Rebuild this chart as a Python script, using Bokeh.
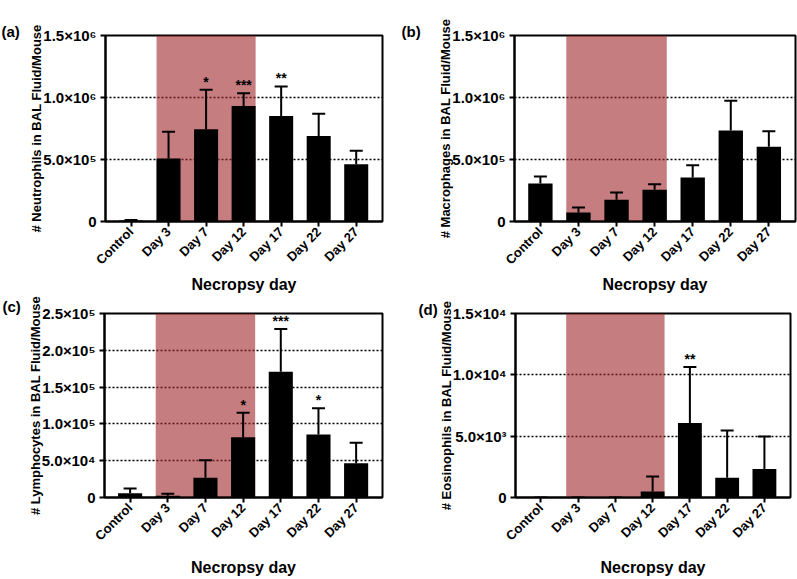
import numpy as np
from bokeh.plotting import figure
from bokeh.layouts import column, row
from bokeh.models import (ColumnDataSource, FixedTicker, Range1d, Whisker, TeeHead,
                          BoxAnnotation, Title)
from bokeh.core.properties import value
from bokeh.embed import file_html
from bokeh.resources import INLINE

categories = ["Control", "Day 3", "Day 7", "Day 12", "Day 17", "Day 22", "Day 27"]
shade_from = "Day 3"
shade_to = "Day 12"

neut_mean = [8e3, 5.08e5, 7.43e5, 9.32e5, 8.51e5, 6.89e5, 4.62e5]
neut_upper = [1.2e4, 7.24e5, 1.062e6, 1.035e6, 1.089e6, 8.68e5, 5.70e5]
neut_sig = ["", "", "*", "***", "**", "", ""]

macro_mean = [3.06e5, 0.72e5, 1.76e5, 2.56e5, 3.54e5, 7.33e5, 6.02e5]
macro_upper = [3.62e5, 1.12e5, 2.34e5, 3.01e5, 4.53e5, 9.73e5, 7.27e5]
macro_sig = ["", "", "", "", "", "", ""]

lymph_mean = [5.9e3, 2.3e3, 2.7e4, 8.17e4, 1.71e5, 8.57e4, 4.65e4]
lymph_upper = [1.22e4, 5.0e3, 5.05e4, 1.151e5, 2.288e5, 1.214e5, 7.45e4]
lymph_sig = ["", "", "", "*", "***", "*", ""]

eos_mean = [0, 0, 0, 490, 6070, 1620, 2330]
eos_upper = [0, 0, 0, 1710, 10640, 5470, 4980]
eos_sig = ["", "", "", "", "**", "", ""]

yticks_a = [0, 5e5, 1e6, 1.5e6]
ylabels_a = ["0", "5.0×10⁵", "1.0×10⁶", "1.5×10⁶"]
yticks_c = [0, 5e4, 1e5, 1.5e5, 2e5, 2.5e5]
ylabels_c = ["0", "5.0×10⁴", "1.0×10⁵", "1.5×10⁵", "2.0×10⁵", "2.5×10⁵"]
yticks_d = [0, 5e3, 1e4, 1.5e4]
ylabels_d = ["0", "5.0×10³", "1.0×10⁴", "1.5×10⁴"]

FONT = "Liberation Sans"
BAR_W = 0.64
X0 = -0.68


def panel(tag, ylabel, mean, upper, sig, yticks, ylabels, width, height,
          bl, br, bt, bb, tag_dx, tag_standoff, xlab_standoff):
    x = list(range(len(categories)))
    ymax = yticks[-1]
    p = figure(width=width, height=height, output_backend="svg", toolbar_location=None,
               x_range=Range1d(X0, len(categories) - 0.3), y_range=Range1d(0, ymax),
               min_border_left=bl, min_border_right=br, min_border_top=bt,
               min_border_bottom=bb)
    p.outline_line_color = "black"
    p.outline_line_width = 2
    p.background_fill_color = "white"
    p.border_fill_color = "white"

    p.xgrid.visible = False
    p.ygrid.ticker = FixedTicker(ticks=yticks[1:-1])
    p.ygrid.grid_line_color = "black"
    p.ygrid.grid_line_dash = "2 2"
    p.ygrid.grid_line_width = 1.5

    i0 = categories.index(shade_from)
    i1 = categories.index(shade_to)
    shade = BoxAnnotation(left=i0 - BAR_W / 2, right=i1 + BAR_W / 2,
                          fill_color="#a0272b", fill_alpha=0.6, line_alpha=0,
                          level="underlay")
    p.add_layout(shade)

    src = ColumnDataSource(dict(x=x, mean=mean, upper=upper, sig=sig))
    p.vbar(x="x", top="mean", bottom=0, width=BAR_W, source=src,
           fill_color="black", line_color=None)
    w = Whisker(source=src, base="x", lower="mean", upper="upper", dimension="height",
                line_color="black", line_width=2, level="annotation",
                upper_head=TeeHead(size=13, line_width=2, line_color="black"),
                lower_head=None)
    p.add_layout(w)
    p.text(x="x", y="upper", text="sig", source=src, text_align="center",
           text_baseline="bottom", y_offset=0, text_font=value(FONT),
           text_font_style="bold", text_font_size="14px", text_color="black")

    p.xaxis.ticker = FixedTicker(ticks=x)
    p.xaxis.major_label_overrides = {i: c for i, c in enumerate(categories)}
    p.xaxis.major_label_orientation = np.pi / 4
    p.xaxis.axis_label = "Necropsy day"
    p.yaxis.ticker = FixedTicker(ticks=yticks)
    p.yaxis.major_label_overrides = {t: l for t, l in zip(yticks, ylabels)}
    p.yaxis.axis_label = ylabel
    for ax in (p.xaxis[0], p.yaxis[0]):
        ax.axis_line_color = "black"
        ax.axis_line_width = 2
        ax.major_tick_line_color = "black"
        ax.major_tick_line_width = 2
        ax.major_tick_in = 0
        ax.major_tick_out = 5
        ax.minor_tick_line_color = None
        ax.major_label_text_font = FONT
        ax.major_label_text_font_style = "bold"
        ax.major_label_text_color = "black"
        ax.axis_label_text_font = FONT
        ax.axis_label_text_font_style = "bold"
        ax.axis_label_text_color = "black"
    p.xaxis.major_label_text_font_size = "13px"
    p.yaxis.major_label_text_font_size = "15px"
    p.xaxis.axis_label_text_font_size = "16px"
    p.yaxis.axis_label_text_font_size = "13px"
    p.xaxis.major_label_standoff = 3
    p.xaxis.axis_label_standoff = xlab_standoff
    p.yaxis.major_label_standoff = 4
    p.yaxis.axis_label_standoff = -4

    t = Title(text=tag, align="left", offset=tag_dx, standoff=tag_standoff,
              text_font=FONT, text_font_style="bold", text_font_size="15px",
              text_color="black")
    p.add_layout(t, "above")
    return p


pa = panel("(a)", "# Neutrophils in BAL Fluid/Mouse", neut_mean, neut_upper, neut_sig,
           yticks_a, ylabels_a, 400, 295, 105, 18, 35, 74, -104, -8, 0)
pb = panel("(b)", "# Macrophages in BAL Fluid/Mouse", macro_mean, macro_upper, macro_sig,
           yticks_a, ylabels_a, 397, 295, 114, 2, 33, 74, -113, -8, 0)
pc = panel("(c)", "# Lymphocytes in BAL Fluid/Mouse", lymph_mean, lymph_upper, lymph_sig,
           yticks_c, ylabels_c, 400, 284, 104, 18, 17, 82, -102, -3, 7)
pd = panel("(d)", "# Eosinophils in BAL Fluid/Mouse", eos_mean, eos_upper, eos_sig,
           yticks_d, ylabels_d, 397, 284, 115, 7, 18, 82, -97, -8, 7)

layout = column(row(pa, pb), row(pc, pd))
open("out.html", "w").write(file_html(layout, INLINE))
